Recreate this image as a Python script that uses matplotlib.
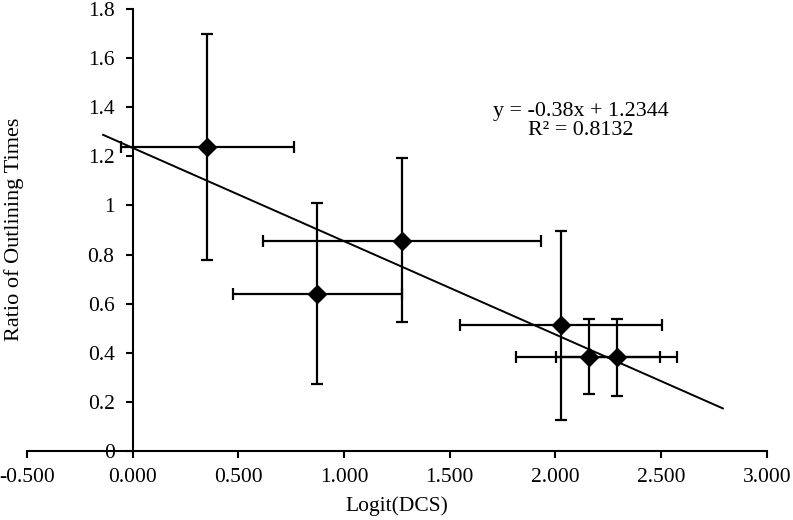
import matplotlib
matplotlib.use("Agg")
import matplotlib.pyplot as plt
import numpy as np
from matplotlib.ticker import FuncFormatter, MultipleLocator

plt.rcParams['font.family'] = ['Liberation Serif', 'DejaVu Serif']

# data
logit_dcs = [0.353, 0.872, 1.274, 2.028, 2.157, 2.291]
ratio = [1.237, 0.640, 0.854, 0.512, 0.384, 0.381]
x_low = [-0.057, 0.474, 0.616, 1.550, 1.815, 2.004]
x_high = [0.763, 1.274, 1.933, 2.504, 2.496, 2.577]
y_low = [0.778, 0.272, 0.525, 0.126, 0.231, 0.224]
y_high = [1.700, 1.011, 1.192, 0.897, 0.536, 0.537]

slope = -0.38
intercept = 1.2344
r2 = 0.8132
trend_x = [-0.14, 2.792]

x = np.array(logit_dcs)
y = np.array(ratio)
xerr = [x - np.array(x_low), np.array(x_high) - x]
yerr = [y - np.array(y_low), np.array(y_high) - y]

fs = 15.5

fig = plt.figure(figsize=(7.93, 5.20), dpi=100)
ax = fig.add_axes([0.034, 0.1327, 0.933, 0.85])

ax.errorbar(x, y, xerr=xerr, yerr=yerr, fmt='D', color='black',
            markersize=9, elinewidth=1.6, capsize=4, capthick=1.6, zorder=3)

tx = np.array(trend_x)
ax.plot(tx, slope * tx + intercept, color='black', lw=1.4, zorder=2)

ax.set_xlim(-0.5, 3.0)
ax.set_ylim(0, 1.8)
ax.xaxis.set_major_locator(MultipleLocator(0.5))
ax.yaxis.set_major_locator(MultipleLocator(0.2))
ax.xaxis.set_major_formatter(FuncFormatter(lambda v, p: f"{v:.3f}"))
ax.yaxis.set_major_formatter(FuncFormatter(lambda v, p: f"{round(v, 1):g}"))

ax.spines['left'].set_position(('data', 0))
ax.spines['bottom'].set_position(('data', 0))
ax.spines['top'].set_visible(False)
ax.spines['right'].set_visible(False)
for s in ('left', 'bottom'):
    ax.spines[s].set_linewidth(1.5)
ax.tick_params(direction='out', length=5, width=1.5, labelsize=fs)
ax.tick_params(axis='x', pad=7)
ax.tick_params(axis='y', pad=8)

ax.text(0.5 * (493 + 668) / 793, 1 - 121 / 520,
        f"y = {slope}x + {intercept}\nR² = {r2}",
        transform=fig.transFigure, ha='center', va='center',
        fontsize=fs + 0.3, linespacing=1.0)

fig.text(14 / 793, 1 - 229 / 520, "Ratio of Outlining Times",
         rotation=90, ha='center', va='center', fontsize=fs + 0.5)
fig.text(397 / 793, 1 - 506 / 520, "Logit(DCS)", ha='center', va='center',
         fontsize=fs)

fig.savefig("out.png", dpi=100)
